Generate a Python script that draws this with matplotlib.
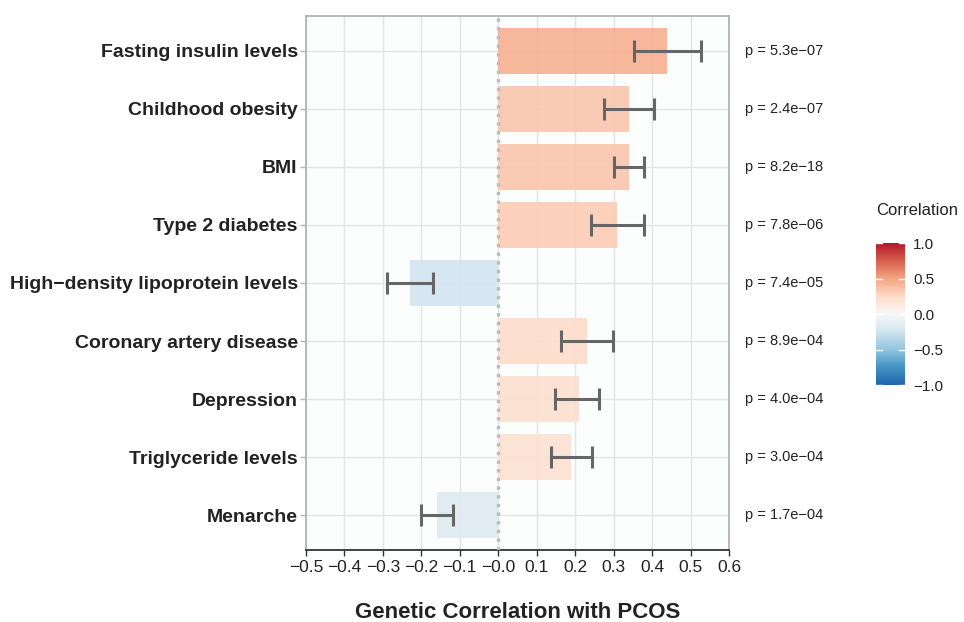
"""
Генетическая корреляция признаков с PCOS: горизонтальные столбцы с ошибками.
"""
import numpy as np
import matplotlib.pyplot as plt
from matplotlib.colors import LinearSegmentedColormap, Normalize
from matplotlib.cm import ScalarMappable

plt.rcParams['font.family'] = ['Liberation Sans', 'DejaVu Sans']

traits = ['Fasting insulin levels', 'Childhood obesity', 'BMI', 'Type 2 diabetes',
          'High\u2212density lipoprotein levels', 'Coronary artery disease',
          'Depression', 'Triglyceride levels', 'Menarche']
rg = [0.44, 0.34, 0.34, 0.31, -0.23, 0.23, 0.21, 0.19, -0.16]
ci_low = [0.352, 0.274, 0.300, 0.241, -0.289, 0.163, 0.147, 0.137, -0.202]
ci_high = [0.526, 0.405, 0.379, 0.378, -0.170, 0.298, 0.261, 0.243, -0.118]
p_labels = ['p = 5.3e\u221207', 'p = 2.4e\u221207', 'p = 8.2e\u221218', 'p = 7.8e\u221206',
            'p = 7.4e\u221205', 'p = 8.9e\u221204', 'p = 4.0e\u221204', 'p = 3.0e\u221204',
            'p = 1.7e\u221204']

# палитра RdBu (от -1 до 1)
cmap = LinearSegmentedColormap.from_list('rdbu', [
    '#2166AC', '#4393C3', '#92C5DE', '#D1E5F0', '#F7F7F7',
    '#FDDBC7', '#F4A582', '#D6604D', '#B2182B'])
norm = Normalize(-1, 1)

rg = np.array(rg)
y = np.arange(len(traits))[::-1]
err = np.array([rg - np.array(ci_low), np.array(ci_high) - rg])

fig = plt.figure(figsize=(9.64, 6.22), dpi=100)
ax = fig.add_axes([0.3174, 0.1158, 0.4388, 0.8585])
ax.set_facecolor('#FBFEFD')

ax.barh(y, rg, height=0.8, color=cmap(norm(rg)), alpha=0.92, zorder=2)
ax.errorbar(rg, y, xerr=err, fmt='none', ecolor='#666666', elinewidth=2.2,
            capsize=8, capthick=2.2, zorder=3)
ax.axvline(0, color='#BBBBBB', linestyle=(0, (1, 1.6)), linewidth=2.4, zorder=4)

for yi, lab in zip(y, p_labels):
    ax.annotate(lab, xy=(1.038, yi), xycoords=('axes fraction', 'data'),
                va='center', ha='left', fontsize=10.5, color='#222222')

ax.set_xlim(-0.5, 0.6)
ax.set_ylim(-0.6, len(traits) - 0.4)
ax.set_xticks(np.round(np.arange(-0.5, 0.61, 0.1), 1))
ax.set_xticklabels([f'{v:.1f}'.replace('-', '\u2212') for v in np.arange(-0.5, 0.61, 0.1)],
                   fontsize=12.5, color='#222222')
ax.set_yticks(y)
ax.set_yticklabels(traits, fontsize=14, fontweight='bold', color='#222222')
ax.grid(color='#E4E4E4', linewidth=1.0, zorder=0)
ax.set_axisbelow(True)

for side in ['top', 'left', 'right']:
    ax.spines[side].set_color('#B3B3B3')
    ax.spines[side].set_linewidth(1.3)
ax.spines['bottom'].set_color('#333333')
ax.spines['bottom'].set_linewidth(1.3)
ax.tick_params(axis='x', length=4, width=1, color='#333333', pad=3)
ax.tick_params(axis='y', length=4, width=1, color='#B3B3B3', pad=2)

ax.set_xlabel('Genetic Correlation with PCOS', fontsize=16, fontweight='bold',
              color='#222222', labelpad=20)

# легенда-шкала
cax = fig.add_axes([0.9087, 0.381, 0.030, 0.2283])
cb = fig.colorbar(ScalarMappable(norm=norm, cmap=cmap), cax=cax,
                  ticks=[-1, -0.5, 0, 0.5, 1])
cb.outline.set_visible(False)
cb.ax.set_yticklabels(['\u22121.0', '\u22120.5', '0.0', '0.5', '1.0'])
cb.ax.tick_params(labelsize=11, length=0, pad=6, labelcolor='#222222')
for t in [-1, -0.5, 0, 0.5, 1]:
    cax.plot([0, 0.2], [t, t], color='white', lw=1, transform=cax.get_yaxis_transform())
    cax.plot([0.8, 1], [t, t], color='white', lw=1, transform=cax.get_yaxis_transform())
fig.text(0.9087, 0.662, 'Correlation', fontsize=12, color='#222222', va='center')

plt.savefig('out.png', dpi=100)
plt.close()
